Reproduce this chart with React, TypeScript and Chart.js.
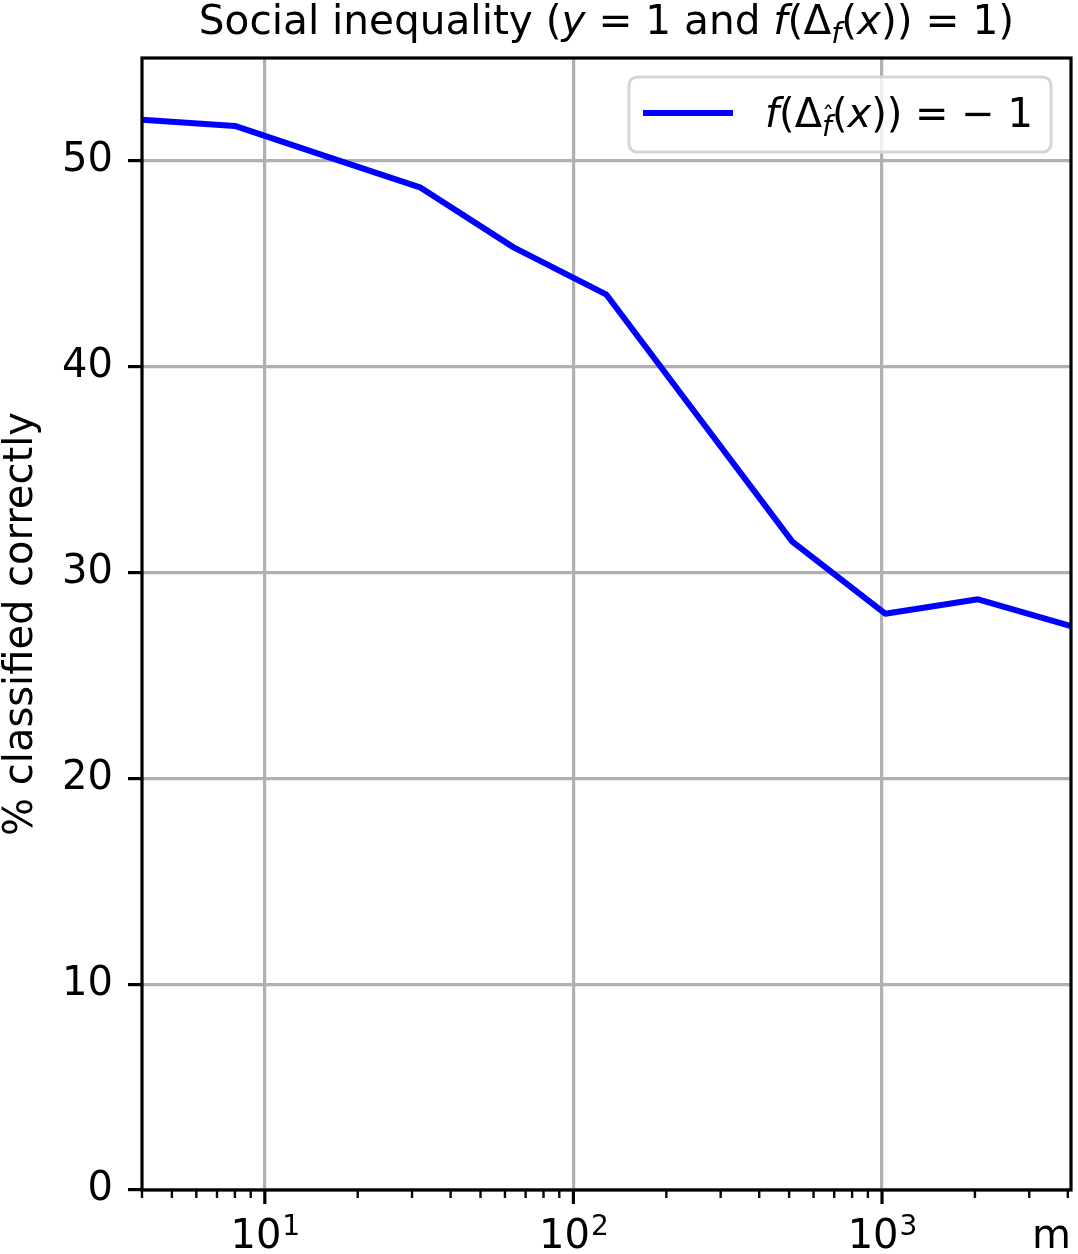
import React, { useEffect, useRef } from "react";
import { Chart, registerables } from "chart.js";

Chart.register(...registerables);

const FONT = "'DejaVu Sans'";
const FS = 40;

// data
const mValues = [4, 8, 16, 32, 64, 128, 256, 512, 1024, 2048, 4096];
const pctCorrect = [52.0, 51.7, 50.2, 48.7, 45.8, 43.5, 37.5, 31.5, 28.0, 28.7, 27.4];

// ticks
const yTickValues = [0, 10, 20, 30, 40, 50];
const xMajorTicks = [10, 100, 1000];
const xTickExponents = ["1", "2", "3"];
const xMinorTicks = [
  4, 5, 6, 7, 8, 9,
  20, 30, 40, 50, 60, 70, 80, 90,
  200, 300, 400, 500, 600, 700, 800, 900,
  2000, 3000, 4000,
];

type Seg = { t: string; it?: boolean; sub?: boolean; hat?: boolean };

const titleSegs: Seg[] = [
  { t: "Social inequality (" },
  { t: "y", it: true },
  { t: " = 1 and " },
  { t: "f", it: true },
  { t: "(\u0394" },
  { t: "f", it: true, sub: true },
  { t: "(" },
  { t: "x", it: true },
  { t: ")) = 1)" },
];

const legendSegs: Seg[] = [
  { t: "f", it: true },
  { t: "(\u0394" },
  { t: "f", it: true, sub: true, hat: true },
  { t: "(" },
  { t: "x", it: true },
  { t: ")) = \u2212 1" },
];

const xLabel = "m";
const yLabel = "% classified correctly";

function segFont(s: Seg, size: number) {
  const sz = s.sub ? size * 0.7 : size;
  return `${s.it ? "italic " : ""}${sz}px ${FONT}`;
}
function segsWidth(ctx: CanvasRenderingContext2D, segs: Seg[], size: number) {
  let w = 0;
  for (const s of segs) {
    ctx.font = segFont(s, size);
    w += ctx.measureText(s.t).width;
  }
  return w;
}
function drawSegs(ctx: CanvasRenderingContext2D, segs: Seg[], x: number, y: number, size: number) {
  ctx.textAlign = "left";
  ctx.textBaseline = "alphabetic";
  for (const s of segs) {
    ctx.font = segFont(s, size);
    const w = ctx.measureText(s.t).width;
    const by = y + (s.sub ? size * 0.22 : 0);
    ctx.fillText(s.t, x, by);
    if (s.hat) {
      ctx.font = `${size * 0.6}px ${FONT}`;
      ctx.textAlign = "center";
      ctx.fillText("\u02C6", x + w * 0.62, by - size * 0.3);
      ctx.textAlign = "left";
    }
    x += w;
  }
}

const decorPlugin = {
  id: "decor",
  afterDraw(chart: any) {
    const ctx: CanvasRenderingContext2D = chart.ctx;
    const area = chart.chartArea;
    const xs = chart.scales.x;
    ctx.save();
    ctx.fillStyle = "#000";
    ctx.strokeStyle = "#000";

    // spines
    ctx.lineWidth = 3.2;
    ctx.strokeRect(area.left, area.top, area.right - area.left, area.bottom - area.top);

    // x ticks
    for (const v of xMinorTicks) {
      const px = xs.getPixelForValue(v);
      ctx.lineWidth = 2.4;
      ctx.beginPath();
      ctx.moveTo(px, area.bottom);
      ctx.lineTo(px, area.bottom + 8);
      ctx.stroke();
    }
    xMajorTicks.forEach((v, i) => {
      const px = xs.getPixelForValue(v);
      ctx.lineWidth = 3.2;
      ctx.beginPath();
      ctx.moveTo(px, area.bottom);
      ctx.lineTo(px, area.bottom + 14);
      ctx.stroke();
      // label 10^n
      ctx.font = `${FS}px ${FONT}`;
      const wb = ctx.measureText("10").width;
      ctx.font = `${FS * 0.7}px ${FONT}`;
      const we = ctx.measureText(xTickExponents[i]).width;
      const x0 = px - (wb + we) / 2;
      ctx.textAlign = "left";
      ctx.textBaseline = "alphabetic";
      ctx.font = `${FS}px ${FONT}`;
      ctx.fillText("10", x0, area.bottom + 58);
      ctx.font = `${FS * 0.7}px ${FONT}`;
      ctx.fillText(xTickExponents[i], x0 + wb + 1, area.bottom + 45);
    });

    // x label
    ctx.font = `${FS}px ${FONT}`;
    ctx.textAlign = "right";
    ctx.textBaseline = "alphabetic";
    ctx.fillText(xLabel, area.right, area.bottom + 58);

    // title
    const TFS = 40.6;
    const tw = segsWidth(ctx, titleSegs, TFS);
    drawSegs(ctx, titleSegs, (area.left + area.right) / 2 - tw / 2, 34, TFS);

    // legend
    const bx = 629, by = 77, bw = 422, bh = 75;
    ctx.beginPath();
    (ctx as any).roundRect(bx, by, bw, bh, 8);
    ctx.fillStyle = "rgba(255,255,255,0.8)";
    ctx.fill();
    ctx.lineWidth = 3;
    ctx.strokeStyle = "#d5d5d5";
    ctx.stroke();
    const ds = chart.data.datasets[0];
    ctx.strokeStyle = ds.borderColor;
    ctx.lineWidth = ds.borderWidth;
    ctx.beginPath();
    ctx.moveTo(643, 113);
    ctx.lineTo(733, 113);
    ctx.stroke();
    ctx.fillStyle = "#000";
    drawSegs(ctx, legendSegs, 765, 127, FS);

    ctx.restore();
  },
};

export default function App() {
  const ref = useRef<HTMLCanvasElement | null>(null);
  useEffect(() => {
    document.body.style.margin = "0";
    const canvas = ref.current!;
    const majors = new Set(xMajorTicks);
    const chart = new Chart(canvas, {
      type: "line",
      data: {
        datasets: [
          {
            label: "f(Δ_f̂(x)) = −1",
            data: mValues.map((m, i) => ({ x: m, y: pctCorrect[i] })),
            borderColor: "#0000ff",
            borderWidth: 6,
            pointRadius: 0,
            tension: 0,
            fill: false,
            clip: 0 as any,
            borderJoinStyle: "round",
          },
        ],
      },
      options: {
        responsive: false,
        animation: false,
        devicePixelRatio: 1,
        layout: { padding: { left: 0, right: 7, top: 58, bottom: 0 } },
        plugins: {
          legend: { display: false },
          title: { display: false },
          tooltip: { enabled: false },
        },
        scales: {
          x: {
            type: "logarithmic",
            min: 4,
            max: 4096,
            afterBuildTicks: (s: any) => {
              s.ticks = [...xMinorTicks, ...xMajorTicks]
                .sort((a, b) => a - b)
                .map((v) => ({ value: v, major: majors.has(v) }));
            },
            afterFit: (s: any) => {
              s.height = 64;
            },
            ticks: { display: false },
            grid: {
              drawTicks: false,
              lineWidth: 3.2,
              color: (c: any) =>
                c.tick && majors.has(c.tick.value) ? "#b0b0b0" : "rgba(0,0,0,0)",
            },
            border: { display: false },
          },
          y: {
            type: "linear",
            min: 0,
            max: 55,
            afterBuildTicks: (s: any) => {
              s.ticks = yTickValues.map((v) => ({ value: v }));
            },
            afterFit: (s: any) => {
              s.width = 142;
            },
            ticks: {
              font: { family: "DejaVu Sans", size: FS },
              color: "#000",
              padding: 15,
            },
            grid: {
              color: "#b0b0b0",
              lineWidth: 3.2,
              drawTicks: true,
              tickLength: 14,
              tickColor: "#000",
              tickWidth: 3.2,
            },
            border: { display: false },
            title: {
              display: true,
              text: yLabel,
              color: "#000",
              font: { family: "DejaVu Sans", size: FS, lineHeight: 1.1 },
              padding: 0,
            },
          },
        },
      },
      plugins: [decorPlugin],
    });
    return () => chart.destroy();
  }, []);
  return (
    <canvas
      ref={ref}
      width={1078}
      height={1254}
      style={{ display: "block", width: 1078, height: 1254 }}
    />
  );
}
